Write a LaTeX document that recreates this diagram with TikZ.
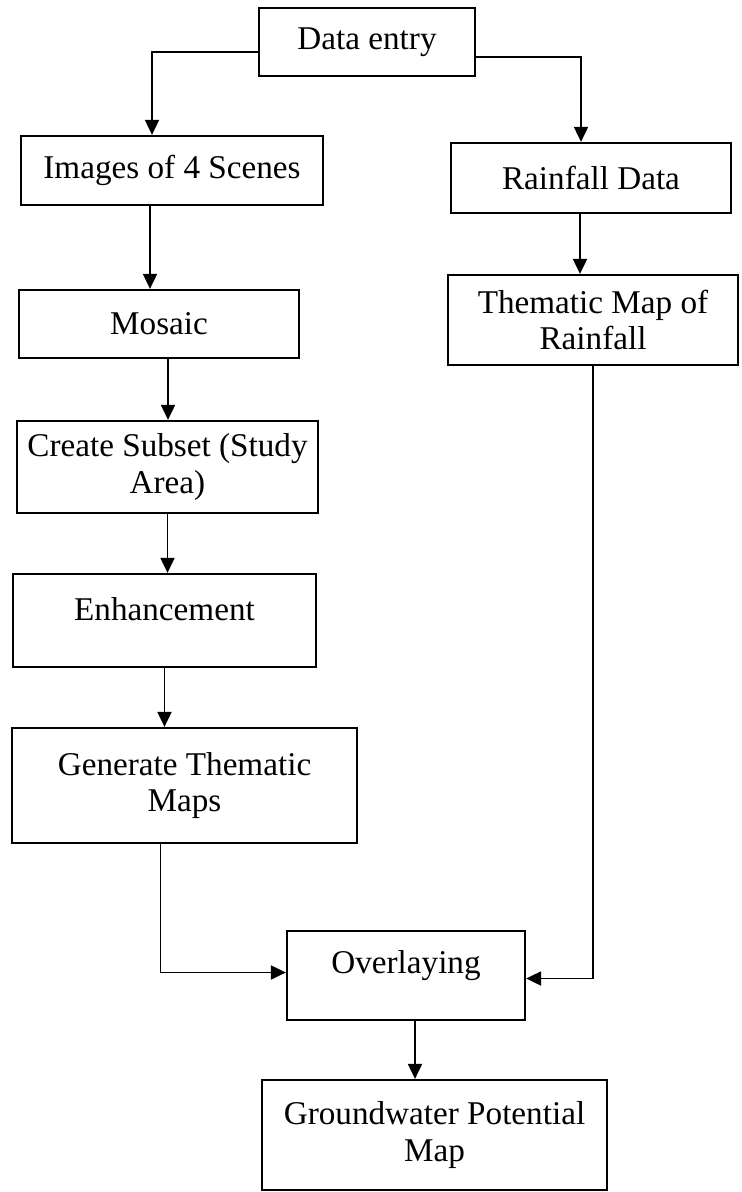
\documentclass[tikz,border=0pt]{standalone}
\usepackage{fontspec}
\setmainfont{Liberation Serif}
\usepackage{tikz}
\usetikzlibrary{arrows.meta}

\newcommand{\upx}{0.0125cm}

\begin{document}
\begin{tikzpicture}[
    x=\upx, y=-\upx,
    box/.style={draw, line width=0.8pt, align=center, inner sep=0pt,
                font=\fontsize{11.8}{13.1}\selectfont},
    sz/.style 2 args={minimum width=#1*\upx, minimum height=#2*\upx},
    textup/.style={text depth=#1*\upx},
    arr/.style={-{Triangle[length=15*\upx, width=14*\upx]}, line width=0.7pt},
]
\useasboundingbox (0,0) rectangle (741,1192);

\node[box, sz={216}{68}]  (entry)   at (367,42)      {Data entry};
\node[box, sz={302}{69}]  (scenes)  at (172,170.5)   {Images of 4 Scenes};
\node[box, sz={280}{70}]  (rain)    at (591,178)     {Rainfall Data};
\node[box, sz={280}{68}]  (mosaic)  at (159,324)     {Mosaic};
\node[box, sz={290}{90}]  (rainmap) at (593,320)     {Thematic Map of\\Rainfall};
\node[box, sz={301}{92}]  (subset)  at (167.5,467)   {Create Subset (Study\\Area)};
\node[box, sz={303}{93}, textup=24]  (enhance) at (164.5,620.5) {Enhancement};
\node[box, sz={345}{115}] (generate) at (184.5,785.5) {Generate Thematic\\Maps};
\node[box, sz={238}{89}, textup=28]  (overlay) at (406,975.5) {Overlaying};
\node[box, sz={345}{110}] (gw)      at (434.5,1135)  {Groundwater Potential\\Map};

\draw[arr] ([yshift=-10*\upx]entry.west) -| ([xshift=-20*\upx]scenes.north);
\draw[arr] ([yshift=-15*\upx]entry.east) -| ([xshift=-10*\upx]rain.north);
\draw[arr] ([xshift=-22*\upx]scenes.south) -- ([xshift=-22*\upx]scenes.south |- mosaic.north);
\draw[arr] ([xshift=-11*\upx]rain.south) -- ([xshift=-11*\upx]rain.south |- rainmap.north);
\draw[arr] ([xshift=9*\upx]mosaic.south) -- ([xshift=9*\upx]mosaic.south |- subset.north);
\draw[arr] (subset.south) -- (subset.south |- enhance.north);
\draw[arr] (enhance.south) -- (enhance.south |- generate.north);
\draw[arr] ([xshift=-24*\upx]generate.south) |- ([yshift=3*\upx]overlay.west);
\draw[arr] (rainmap.south) |- ([yshift=-3*\upx]overlay.east);
\draw[arr] ([xshift=9*\upx]overlay.south) -- ([xshift=9*\upx]overlay.south |- gw.north);
\end{tikzpicture}
\end{document}
